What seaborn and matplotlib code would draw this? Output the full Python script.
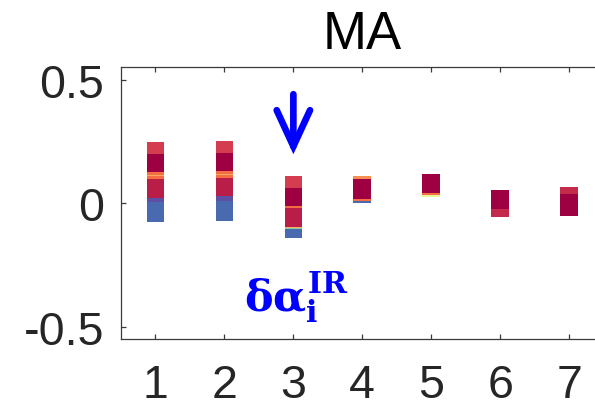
import numpy as np
import pandas as pd
import matplotlib
matplotlib.use("Agg")
import matplotlib.pyplot as plt
import seaborn as sns

# ---- data: stacked colour segments per parameter index ----
positions = [1, 2, 3, 4, 5, 6, 7]
tick_labels = ["1", "2", "3", "4", "5", "6", "7"]

# segment edges (top to bottom) and Spectral colour level for each segment
edges_1 = [0.246, 0.199, 0.127, 0.113, 0.108, 0.097, 0.020, 0.003, -0.076]
levels_1 = [0.10, 0.00, 0.20, 0.30, 0.20, 0.05, 1.00, 0.95]
edges_2 = [0.250, 0.205, 0.131, 0.118, 0.113, 0.100, 0.027, 0.007, -0.072]
levels_2 = [0.10, 0.00, 0.20, 0.30, 0.20, 0.05, 1.00, 0.95]
edges_3 = [0.108, 0.061, -0.011, -0.020, -0.096, -0.100, -0.105, -0.142]
levels_3 = [0.10, 0.00, 0.20, 0.05, 0.30, 0.75, 0.95]
edges_4 = [0.108, 0.097, 0.016, 0.009, 0.000]
levels_4 = [0.25, 0.00, 0.20, 0.95]
edges_5 = [0.119, 0.040, 0.035, 0.023]
levels_5 = [0.00, 0.20, 0.60]
edges_6 = [0.053, -0.022, -0.058]
levels_6 = [0.00, 0.07]
edges_7 = [0.066, 0.036, -0.053]
levels_7 = [0.07, 0.00]

all_edges = [edges_1, edges_2, edges_3, edges_4, edges_5, edges_6, edges_7]
all_levels = [levels_1, levels_2, levels_3, levels_4, levels_5, levels_6, levels_7]

rows = []
for pos, ed, lv in zip(positions, all_edges, all_levels):
    for k, level in enumerate(lv):
        rows.append({"pos": pos, "top": ed[k], "bottom": ed[k + 1], "level": level})
df = pd.DataFrame(rows)

# ---- style ----
sns.set_theme(style="ticks")
plt.rcParams["font.family"] = ["Liberation Sans", "DejaVu Sans"]
plt.rcParams["mathtext.fontset"] = "custom"
plt.rcParams["mathtext.rm"] = "DejaVu Serif:bold"
plt.rcParams["mathtext.it"] = "DejaVu Serif:bold"
plt.rcParams["mathtext.bf"] = "DejaVu Serif:bold"

cmap = sns.color_palette("Spectral", as_cmap=True)
axcol = "#262626"

fig = plt.figure(figsize=(5.95, 4.14), dpi=100)
ax = fig.add_axes([0.2034, 0.1787, 0.811, 0.6563])

for _, r in df.iterrows():
    ax.bar(r["pos"], r["top"] - r["bottom"], bottom=r["bottom"], width=0.257,
           color=cmap(r["level"]), edgecolor="none", linewidth=0)

ax.set_xlim(0.5, 7.5)
ax.set_ylim(-0.55, 0.55)
ax.set_xticks(positions)
ax.set_xticklabels(tick_labels)
ax.set_yticks([-0.5, 0, 0.5])
ax.set_yticklabels(["-0.5", "0", "0.5"])

ax.tick_params(axis="x", direction="in", top=True, bottom=True, length=3.4,
               width=0.9, colors="#3a3a3a", labelcolor=axcol, labelsize=33.5,
               pad=17.5)
ax.tick_params(axis="y", direction="in", left=True, right=False, length=3.4,
               width=0.9, colors="#3a3a3a", labelcolor=axcol, labelsize=33.5,
               pad=12)
for s in ["left", "bottom", "top"]:
    ax.spines[s].set_color("#3a3a3a")
    ax.spines[s].set_linewidth(0.9)
ax.spines["right"].set_visible(False)

ax.set_title("MA", fontsize=38, pad=14, color="black")

ax.annotate("", xy=(3, 0.198), xytext=(3, 0.441),
            arrowprops=dict(arrowstyle="->,head_length=1.3,head_width=0.6",
                            lw=4.8, color="#0000FF", mutation_scale=20,
                            shrinkA=0, shrinkB=0, capstyle="round",
                            joinstyle="miter"))
ax.text(3.04, -0.436, r"$\delta\alpha_{i}^{IR}$", color="#0000FF",
        fontsize=31, ha="center", va="baseline")

fig.savefig("out.png", dpi=100)
